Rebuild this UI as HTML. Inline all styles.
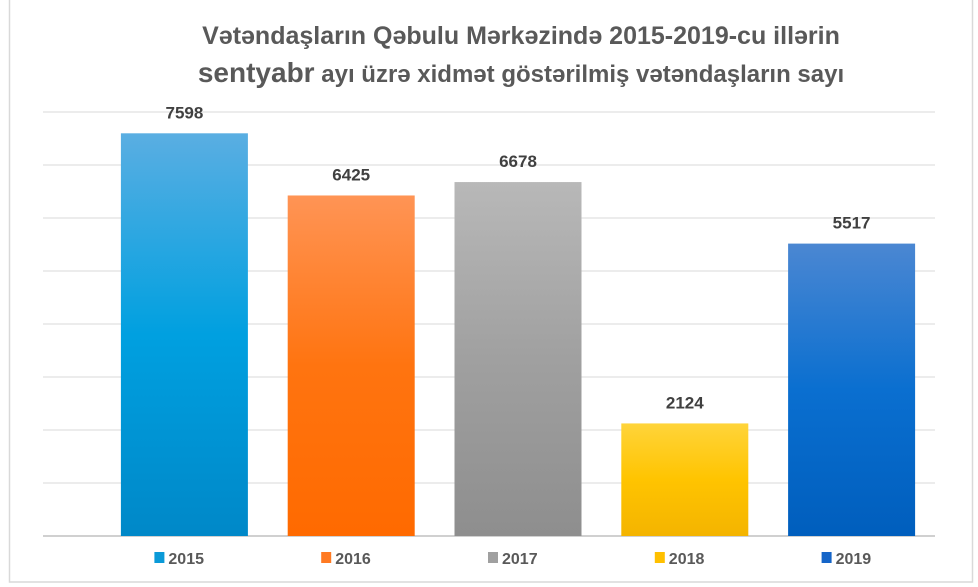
<!DOCTYPE html>
<html><head><meta charset="utf-8"><style>
html,body{margin:0;padding:0;background:#fff;}
svg{display:block;font-family:"Liberation Sans",Arial,sans-serif;}
</style></head><body>
<svg id="chart" width="978" height="587">
<defs>
<linearGradient id="g0" x1="0" y1="0" x2="0" y2="1"><stop offset="0" stop-color="#5aaee2"/><stop offset="0.5" stop-color="#00a0e0"/><stop offset="1" stop-color="#0088c8"/></linearGradient>
<linearGradient id="g1" x1="0" y1="0" x2="0" y2="1"><stop offset="0" stop-color="#ff9455"/><stop offset="0.5" stop-color="#ff7410"/><stop offset="1" stop-color="#ff6a00"/></linearGradient>
<linearGradient id="g2" x1="0" y1="0" x2="0" y2="1"><stop offset="0" stop-color="#b8b8b8"/><stop offset="0.5" stop-color="#a0a0a0"/><stop offset="1" stop-color="#8e8e8e"/></linearGradient>
<linearGradient id="g3" x1="0" y1="0" x2="0" y2="1"><stop offset="0" stop-color="#ffd43a"/><stop offset="0.5" stop-color="#ffc400"/><stop offset="1" stop-color="#f4b400"/></linearGradient>
<linearGradient id="g4" x1="0" y1="0" x2="0" y2="1"><stop offset="0" stop-color="#4b87d2"/><stop offset="0.5" stop-color="#0a6fd0"/><stop offset="1" stop-color="#005ebd"/></linearGradient>
</defs>
<rect x="9.5" y="-2" width="963" height="584" fill="#fff" stroke="#d9d9d9" stroke-width="1.5"/>
<text x="521" y="44" text-anchor="middle" font-size="25" font-weight="bold" fill="#595959">Vətəndaşların Qəbulu Mərkəzində 2015-2019-cu illərin</text>
<text x="521" y="82" text-anchor="middle" font-size="24" font-weight="bold" fill="#595959"><tspan font-size="28">sentyabr</tspan> ayı üzrə xidmət göstərilmiş vətəndaşların sayı</text>
<g id="grid"></g><g id="bars"></g><g id="legend"></g>
</svg>
<script>
const categories = ["2015","2016","2017","2018","2019"];
const values = [7598, 6425, 6678, 2124, 5517];
const gridTicks = [0,1000,2000,3000,4000,5000,6000,7000,8000];
const fills = ["url(#g0)","url(#g1)","url(#g2)","url(#g3)","url(#g4)"];
const legendColors = ["#0a9ad8","#ff7a22","#a0a0a0","#ffc000","#1565c8"];
const NS="http://www.w3.org/2000/svg";
const xStart=101, xEnd=935, yBase=536, yTop=112, maxV=8000;
const bw=(xEnd-xStart)/categories.length;
const yScale=v=>yBase-(v/maxV)*(yBase-yTop);
function mk(t,a,p){const e=document.createElementNS(NS,t);for(const k in a)e.setAttribute(k,a[k]);p.appendChild(e);return e;}
const grid=document.getElementById('grid');
gridTicks.forEach(t=>{
  const l=mk('line',{x1:xStart-58,x2:xEnd,y1:yScale(t),y2:yScale(t),stroke:t===0?'#d0d0d0':'#d9d9d9','stroke-width':t===0?2:1},grid);
  
  
});
const bars=document.getElementById('bars');
const lg=document.getElementById('legend');
categories.forEach((c,i)=>{
  const cx=xStart+bw*(i+0.5), w=127;
  const r=mk('rect',{x:cx-w/2,y:yScale(values[i]),width:w,height:yBase-yScale(values[i]),fill:fills[i]},bars);
  
  
  const t=mk('text',{x:cx,y:yScale(values[i])-15,'text-anchor':'middle','font-size':17,'font-weight':'bold',fill:'#404040'},bars);
  t.textContent=values[i];
  
  
  const lx=cx-30;
  const s=mk('rect',{x:lx,y:552,width:10,height:11,fill:legendColors[i]},lg);
  
  
  const lt=mk('text',{x:lx+14,y:564,'font-size':16,'font-weight':'bold',fill:'#595959'},lg);
  lt.textContent=c;
  
  
});
</script>
</body></html>
